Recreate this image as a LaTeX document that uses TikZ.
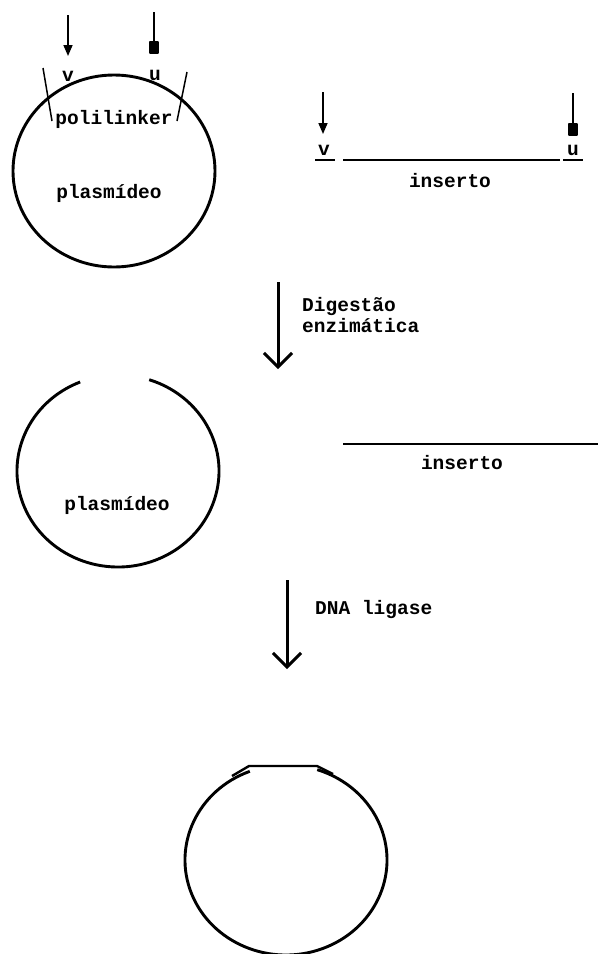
\documentclass[tikz,border=0pt]{standalone}
\usepackage{fontspec}
\newfontfamily\dm{Liberation Mono}
\usetikzlibrary{arrows.meta}
\tikzset{
  lbl/.style={inner sep=0pt, font=\dm\bfseries\fontsize{19.5}{20}\selectfont, anchor=base},
  ring/.style={line width=2.9pt},
  thinln/.style={line width=1.5pt},
  dnaline/.style={line width=2.4pt},
  cutarrow/.style={line width=1.6pt, -{Triangle[length=11pt,width=9pt]}},
  cutblock/.style={line width=1.6pt, -{Square[length=13pt,width=10pt,round]}},
  bigarrow/.style={line width=3pt, -{Straight Barb[length=14pt,width=28pt,line width=3pt]}}
}
\begin{document}
\begin{tikzpicture}[x=1pt,y=-1pt]
\useasboundingbox (0,0) rectangle (598,954);
% ---------- stage 1 : plasmid ----------
\draw[ring] (114,171) ellipse [x radius=101pt, y radius=96pt];
\coordinate (pl1) at (43,68);  \coordinate (pl2) at (52,121);
\coordinate (pr1) at (187,72); \coordinate (pr2) at (177,121);
\draw[thinln] (pl1) -- (pl2);
\draw[thinln] (pr1) -- (pr2);
\node[lbl] (poli) at (114,124) {polilinker};
\node[lbl] (plas1) at (109,198) {plasmídeo};
\node[lbl] (v1) at (68,81) {v};
\node[lbl] (u1) at (155,80) {u};
\coordinate (c1s) at (68,15);  \coordinate (c1e) at (68,56);
\coordinate (c2s) at (154,12); \coordinate (c2e) at (154,54);
\draw[cutarrow] (c1s) -- (c1e);
\draw[cutblock] (c2s) -- (c2e);
% ---------- stage 1 : insert ----------
\coordinate (i1a) at (343,160); \coordinate (i1b) at (560,160);
\coordinate (uv1) at (315,160); \coordinate (uv2) at (335,160);
\coordinate (uu1) at (563,160); \coordinate (uu2) at (583,160);
\draw[dnaline] (i1a) -- (i1b);
\draw[dnaline] (uv1) -- (uv2);
\draw[dnaline] (uu1) -- (uu2);
\node[lbl] (v2) at (324,155) {v};
\node[lbl] (u2) at (573,155) {u};
\node[lbl] (ins1) at (450,187) {inserto};
\coordinate (c3s) at (323,92);  \coordinate (c3e) at (323,134);
\coordinate (c4s) at (573,93);  \coordinate (c4e) at (573,136);
\draw[cutarrow] (c3s) -- (c3e);
\draw[cutblock] (c4s) -- (c4e);
% ---------- arrow 1 ----------
\coordinate (a1s) at (278,282); \coordinate (a1e) at (278,369);
\draw[bigarrow] (a1s) -- (a1e);
\node[lbl, anchor=base west] (dig) at (302,311) {Digestão};
\node[lbl, anchor=base west] (enz) at (302,332) {enzimática};
% ---------- stage 2 ----------
\draw[ring] (118,471) ++(112:101pt and 96pt) arc[start angle=112, end angle=432, x radius=101pt, y radius=96pt];
\node[lbl] (plas2) at (117,510) {plasmídeo};
\coordinate (i2a) at (343,444); \coordinate (i2b) at (598,444);
\draw[dnaline] (i2a) -- (i2b);
\node[lbl] (ins2) at (462,469) {inserto};
% ---------- arrow 2 ----------
\coordinate (a2s) at (287,580); \coordinate (a2e) at (287,669);
\draw[bigarrow] (a2s) -- (a2e);
\node[lbl, anchor=base west] (lig) at (315,614) {DNA ligase};
% ---------- stage 3 ----------
\draw[ring] (286,860) ++(111:101pt and 95pt) arc[start angle=111, end angle=432, x radius=101pt, y radius=95pt];
\coordinate (l1) at (232,776); \coordinate (l2) at (249,766);
\coordinate (l3) at (317,766); \coordinate (l4) at (333,774);
\draw[dnaline] (l1) -- (l2) -- (l3) -- (l4);
\end{tikzpicture}
\end{document}
